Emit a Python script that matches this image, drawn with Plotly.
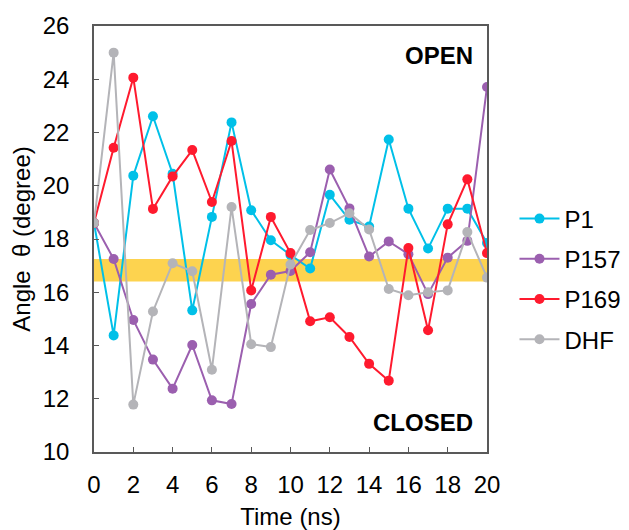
import plotly.graph_objects as go

time_ns = list(range(21))
p1 = [18.6, 14.38, 20.38, 22.61, 20.45, 15.32, 18.83, 22.38, 19.08, 17.95, 17.4,
      16.89, 19.66, 18.72, 18.47, 21.74, 19.14, 17.64, 19.14, 19.14, 17.85]
p157 = [18.6, 17.25, 14.96, 13.47, 12.38, 14.02, 11.94, 11.8, 15.56, 16.66, 16.8,
        17.5, 20.61, 19.15, 17.34, 17.91, 17.43, 15.93, 17.3, 17.93, 23.71]
p169 = [18.6, 21.43, 24.06, 19.13, 20.35, 21.34, 19.39, 21.68, 16.07, 18.83, 17.47,
        14.91, 15.06, 14.32, 13.31, 12.68, 17.66, 14.57, 18.55, 20.24, 17.47]
dhf = [18.6, 25.0, 11.78, 15.28, 17.09, 16.79, 13.09, 19.2, 14.05, 13.94, 17.04,
       18.34, 18.6, 18.97, 18.36, 16.12, 15.89, 16.0, 16.07, 18.26, 16.55]
series_names = ["P1", "P157", "P169", "DHF"]
series_colors = ["#00C0E8", "#9B5FAF", "#FF1A2E", "#B4B4B8"]
band_range = [16.4, 17.25]
x_ticks = list(range(0, 21, 2))
y_ticks = list(range(10, 27, 2))

FONT = "Liberation Sans, Arial"

fig = go.Figure()
for name, vals, col in zip(series_names, [p1, p157, p169, dhf], series_colors):
    fig.add_trace(go.Scatter(
        x=time_ns, y=vals, name=name, mode="lines+markers",
        line=dict(color=col, width=2),
        marker=dict(color=col, size=10),
        legendgroup=name,
    ))

fig.add_shape(type="rect", xref="paper", x0=0, x1=1, yref="y",
              y0=band_range[0], y1=band_range[1],
              fillcolor="#FDD34F", line=dict(width=0), layer="below")

fig.add_annotation(x=19.4, y=24.9, xref="x", yref="y", text="<b>OPEN</b>",
                   showarrow=False, xanchor="right", yanchor="middle",
                   font=dict(size=24, color="black", family=FONT))
fig.add_annotation(x=19.4, y=11.12, xref="x", yref="y", text="<b>CLOSED</b>",
                   showarrow=False, xanchor="right", yanchor="middle",
                   font=dict(size=24, color="black", family=FONT))

axis_common = dict(showline=True, linecolor="#595959", linewidth=1.5, mirror=True,
                   ticks="inside", ticklen=5, tickcolor="#595959", tickwidth=1,
                   showgrid=False, zeroline=False, automargin=False,
                   tickfont=dict(size=24, color="black", family=FONT))
fig.update_xaxes(range=[0, 20], tickvals=x_ticks, ticklabelstandoff=10,
                 title=dict(text="Time (ns)", font=dict(size=24, color="black", family=FONT),
                            standoff=16),
                 **axis_common)
fig.update_yaxes(range=[10, 26], tickvals=y_ticks, ticklabelstandoff=18,
                 title=dict(text="Angle  θ (degree)", font=dict(size=24, color="black", family=FONT),
                            standoff=7),
                 **axis_common)

fig.update_layout(
    width=621, height=522,
    margin=dict(l=86, r=142, t=18, b=78),
    paper_bgcolor="white", plot_bgcolor="white",
    font=dict(family=FONT, color="black"),
    legend=dict(xref="container", yref="container",
                x=0.8156, y=0.4808, xanchor="left", yanchor="middle",
                font=dict(size=24, color="black", family=FONT), tracegroupgap=6,
                itemwidth=40, bgcolor="rgba(0,0,0,0)"),
    showlegend=True,
)

fig.write_html("out.html")
